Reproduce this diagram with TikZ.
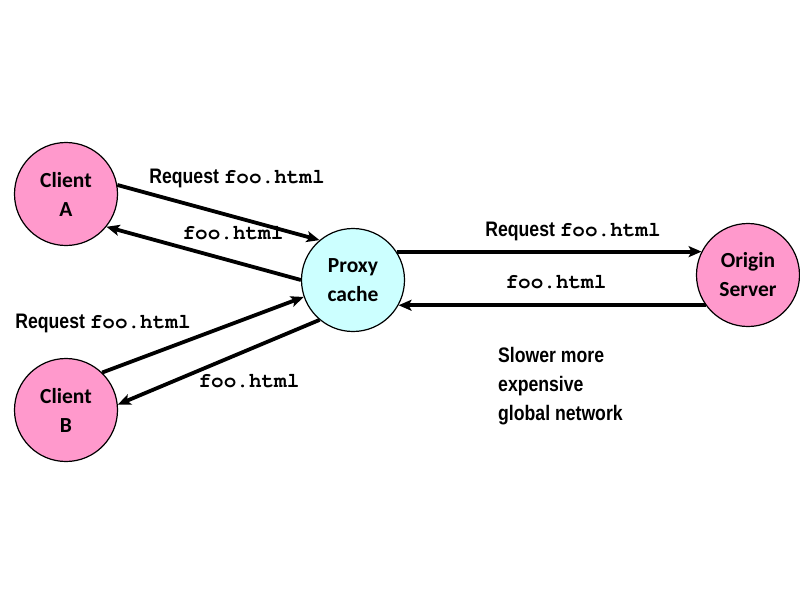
\documentclass[tikz,border=0pt]{standalone}
\usepackage{fontspec}
\setmainfont{Carlito}
\newfontfamily\labfont{Liberation Sans Bold}[FakeStretch=0.84]
\newfontfamily\monofont{TeX Gyre Cursor}
\usetikzlibrary{arrows.meta}
\definecolor{pinkfill}{HTML}{FF99CC}
\definecolor{cyanfill}{HTML}{CCFFFF}
\newcommand{\ff}{{\monofont\bfseries\fontsize{21}{29}\selectfont foo.html}}
\begin{document}
\begin{tikzpicture}[x=1pt,y=-1pt,
  hostnode/.style={circle,draw=black,line width=1.2pt,minimum size=103pt,inner sep=0pt,
    align=center,font=\fontsize{21.5}{29}\selectfont\bfseries},
  clientnode/.style={hostnode,fill=pinkfill},
  proxynode/.style={hostnode,fill=cyanfill},
  conn/.style={line width=3.8pt,-{Stealth[length=13pt,width=11pt,inset=3pt]}},
  lbl/.style={inner sep=0pt,font=\labfont\fontsize{21}{29}\selectfont},
  mlbl/.style={inner sep=0pt,font=\monofont\bfseries\fontsize{21}{29}\selectfont}]
\useasboundingbox[fill=white] (0,0) rectangle (800,600);
\node[clientnode] (A) at (66,194) {Client\\A};
\node[clientnode] (B) at (66,410) {Client\\B};
\node[proxynode] (P) at (353,280) {Proxy\\cache};
\node[clientnode] (O) at (748,275) {Origin\\Server};
% connectors
\draw[conn] (A.10) -- (P.130);
\draw[conn] (P.180) -- (A.-39);
\draw[conn] (B.46) -- (P.199);
\draw[conn] (P.230) -- (B.6);
\draw[conn] (P.33) -- (O.153 |- P.33);
\draw[conn] (O.216 |- P.-29) -- (P.-29);
% labels
\node[lbl] (l1) at (237,178) {Request \ff};
\node[mlbl] (l2) at (233,233) {foo.html};
\node[lbl] (l3) at (103,323) {Request \ff};
\node[mlbl] (l4) at (249,381) {foo.html};
\node[lbl] (l5) at (573,231) {Request \ff};
\node[mlbl] (l6) at (556,282) {foo.html};
\node[lbl,anchor=west,align=left] (note) at (498,386) {Slower more\\expensive\\global network};
\end{tikzpicture}
\end{document}
